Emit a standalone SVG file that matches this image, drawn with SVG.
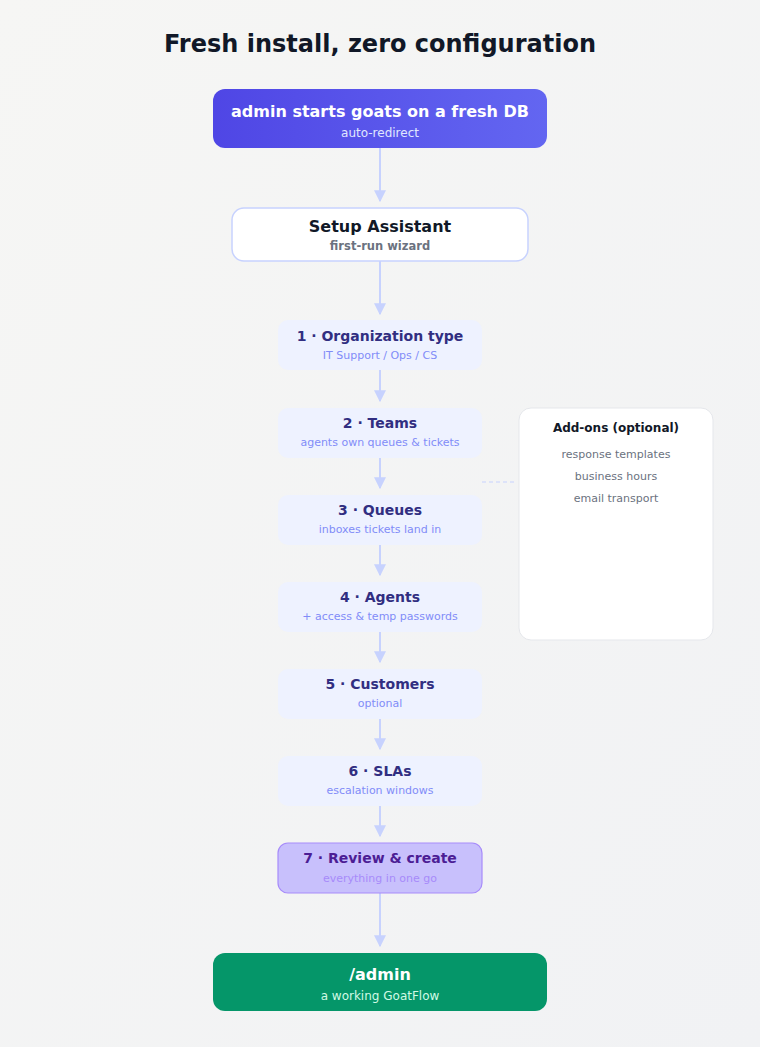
<svg xmlns="http://www.w3.org/2000/svg" width="760" height="1047" viewBox="0 0 760 1047">
<defs>
<linearGradient id="bg" x1="0" y1="0" x2="1" y2="1"><stop offset="0" stop-color="#f6f6f4"/><stop offset="1" stop-color="#f1f2f4"/></linearGradient>
<linearGradient id="start" x1="0" y1="0" x2="1" y2="0"><stop offset="0" stop-color="#4f46e5"/><stop offset="1" stop-color="#6366f1"/></linearGradient>
<marker id="ah" viewBox="0 0 10 10" refX="9" refY="5" markerWidth="6" markerHeight="6" markerUnits="strokeWidth" orient="auto"><path d="M0,0 L10,5 L0,10 z" fill="#c7d2fe"/></marker>
<style>
text{font-family:"DejaVu Sans","Liberation Sans",sans-serif;text-anchor:middle}
.title{font-size:24px;font-weight:bold;fill:#111827}
.big{font-size:16px;font-weight:bold}
.sm{font-size:12px}
.step rect{fill:#eef2ff}
.step .t{font-size:14px;font-weight:bold;fill:#312e81}
.step .s{font-size:11px;fill:#818cf8}
.conn line{stroke:#c7d2fe;stroke-width:2;marker-end:url(#ah)}
.item{font-size:11px;fill:#6b7280}
</style>
</defs>
<rect width="760" height="1047" fill="url(#bg)"/>
<text class="title" x="380" y="52">Fresh install, zero configuration</text>

<g class="conn">
<line x1="380" y1="148" x2="380" y2="201"/>
<line x1="380" y1="261" x2="380" y2="314"/>
<line x1="380" y1="370" x2="380" y2="401"/>
<line x1="380" y1="458" x2="380" y2="488"/>
<line x1="380" y1="545" x2="380" y2="575"/>
<line x1="380" y1="632" x2="380" y2="662"/>
<line x1="380" y1="719" x2="380" y2="749"/>
<line x1="380" y1="806" x2="380" y2="836"/>
<line x1="380" y1="893" x2="380" y2="946"/>
<path d="M482,482 H516" stroke="#c7d2fe" stroke-width="1.2" stroke-dasharray="4 3" fill="none"/>
</g>

<g id="start-node">
<rect x="213" y="89" width="334" height="59" rx="12" fill="url(#start)"/>
<text class="big" x="380" y="117" fill="#ffffff">admin starts goats on a fresh DB</text>
<text class="sm" x="380" y="137" fill="#e0e7ff">auto-redirect</text>
</g>

<g id="setup">
<rect x="232" y="208" width="296" height="53" rx="12" fill="#ffffff" stroke="#c7d2fe" stroke-width="1.5"/>
<text class="big" x="380" y="232" fill="#111827">Setup Assistant</text>
<text x="380" y="250" font-size="11.5" fill="#6b7280" font-weight="bold">first-run wizard</text>
</g>

<g id="step1" class="step"><rect x="278" y="320" width="204" height="50" rx="10"/><text class="t" x="380" y="341">1 · Organization type</text><text class="s" x="380" y="359">IT Support / Ops / CS</text></g>
<g id="step2" class="step"><rect x="278" y="408" width="204" height="50" rx="10"/><text class="t" x="380" y="428">2 · Teams</text><text class="s" x="380" y="446">agents own queues &amp; tickets</text></g>
<g id="step3" class="step"><rect x="278" y="495" width="204" height="50" rx="10"/><text class="t" x="380" y="515">3 · Queues</text><text class="s" x="380" y="533">inboxes tickets land in</text></g>
<g id="step4" class="step"><rect x="278" y="582" width="204" height="50" rx="10"/><text class="t" x="380" y="602">4 · Agents</text><text class="s" x="380" y="620">+ access &amp; temp passwords</text></g>
<g id="step5" class="step"><rect x="278" y="669" width="204" height="50" rx="10"/><text class="t" x="380" y="689">5 · Customers</text><text class="s" x="380" y="707">optional</text></g>
<g id="step6" class="step"><rect x="278" y="756" width="204" height="50" rx="10"/><text class="t" x="380" y="776">6 · SLAs</text><text class="s" x="380" y="794">escalation windows</text></g>
<g id="step7"><rect x="278" y="843" width="204" height="50" rx="10" fill="#c8c0fc" stroke="#a78bfa" stroke-width="1.2"/><text x="380" y="863" font-size="14" font-weight="bold" fill="#4c1d95">7 · Review &amp; create</text><text x="380" y="882" font-size="11" fill="#a78bfa">everything in one go</text></g>

<g id="admin">
<rect x="213" y="953" width="334" height="58" rx="12" fill="#059669"/>
<text class="big" x="380" y="980" fill="#ffffff">/admin</text>
<text class="sm" x="380" y="1000" fill="#d1fae5">a working GoatFlow</text>
</g>

<g id="addons">
<rect x="519" y="408" width="194" height="232" rx="12" fill="#ffffff" stroke="#e5e7eb" stroke-width="1"/>
<text x="616" y="432" font-size="12" font-weight="bold" fill="#111827">Add-ons (optional)</text>
<text class="item" x="616" y="458">response templates</text>
<text class="item" x="616" y="480">business hours</text>
<text class="item" x="616" y="502">email transport</text>
</g>
</svg>
